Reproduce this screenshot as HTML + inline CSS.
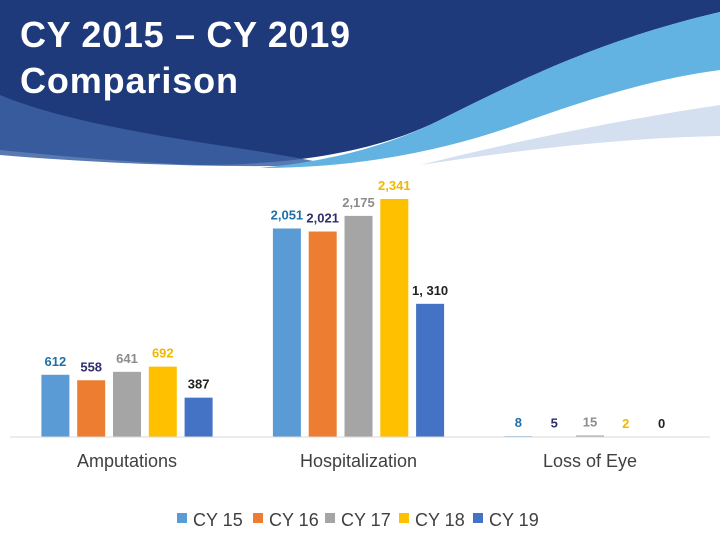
<!DOCTYPE html>
<html><head><meta charset="utf-8"><style>
body{margin:0;width:720px;height:540px;overflow:hidden;background:#fff;font-family:"Liberation Sans",sans-serif}
svg{display:block}
</style></head><body>
<svg width="720" height="540">
<g>
<path d="M0,0 H720 V12 C600,40 520,80 440,120 C380,150 300,165 200,165 C120,162 50,155 0,150 Z" fill="#1f3a7a"/>
<path d="M0,95 C60,120 150,135 250,150 C300,158 320,162 330,165 C230,168 120,165 0,155 Z" fill="#3c62a3" opacity="0.85"/>
<path d="M720,12 C600,40 520,80 440,120 C380,150 320,162 260,168 C360,168 450,150 530,120 C600,95 660,78 720,70 Z" fill="#62b2e2"/>
<path d="M720,105 C620,120 520,140 420,165 C520,150 620,138 720,136 Z" fill="#d4dff0"/>
<text x="20" y="47" fill="#fff" font-size="36" font-weight="bold" textLength="330">CY 2015 – CY 2019</text>
<text x="20" y="93" fill="#fff" font-size="36" font-weight="bold" textLength="218">Comparison</text>
</g>
<g id="chart"></g>
<line x1="10" y1="437" x2="710" y2="437" stroke="#d9d9d9" stroke-width="1"/>
</svg>
<script>
const categories=["Amputations","Hospitalization","Loss of Eye"];
const seriesNames=["CY 15","CY 16","CY 17","CY 18","CY 19"];
const cy15=[612,2051,8];
const cy16=[558,2021,5];
const cy17=[641,2175,15];
const cy18=[692,2341,2];
const cy19=[387,1310,0];
const valueLabels=[["612","2,051","8"],["558","2,021","5"],["641","2,175","15"],["692","2,341","2"],["387","1, 310","0"]];
const series=[cy15,cy16,cy17,cy18,cy19];
const colors=["#5b9bd5","#ed7d31","#a5a5a5","#ffc000","#4472c4"];
const labelColors=["#1f6fa8","#2e2e6e","#8c8c8c","#f2b800","#222"];
const baseY=437, scale=238/2341;
const y=v=>baseY-v*scale;
const groupX=i=>127+i*231.5;
const barX=(g,s)=>groupX(g)+(s-2)*35.8-14;
const ns="http://www.w3.org/2000/svg";
const chart=document.getElementById('chart');
function mk(t,a){const e=document.createElementNS(ns,t);for(const k in a)e.setAttribute(k,a[k]);chart.appendChild(e);return e;}
series.forEach((vals,s)=>{vals.forEach((v,g)=>{
 const r=mk('rect',{x:barX(g,s),y:y(v),width:28,height:Math.max(v*scale,0),fill:colors[s]});
 
 
 const t=mk('text',{x:barX(g,s)+14,y:Math.min(y(v)-9,429),'text-anchor':'middle','font-size':'13','font-weight':'bold',fill:labelColors[s]});
 t.textContent=valueLabels[s][g];
 
 
});});
categories.forEach((c,g)=>{
 const t=mk('text',{x:groupX(g),y:467,'text-anchor':'middle','font-size':'18',fill:'#404040'});
 t.textContent=c;
 
 
});
const legX=[177,253,325,399,473];
seriesNames.forEach((n,s)=>{
 const r=mk('rect',{x:legX[s],y:513,width:10,height:10,fill:colors[s]});
 
 
 const t=mk('text',{x:legX[s]+16,y:526,'font-size':'18',fill:'#404040'});
 t.textContent=n;
 
 
});
</script>
</body></html>
